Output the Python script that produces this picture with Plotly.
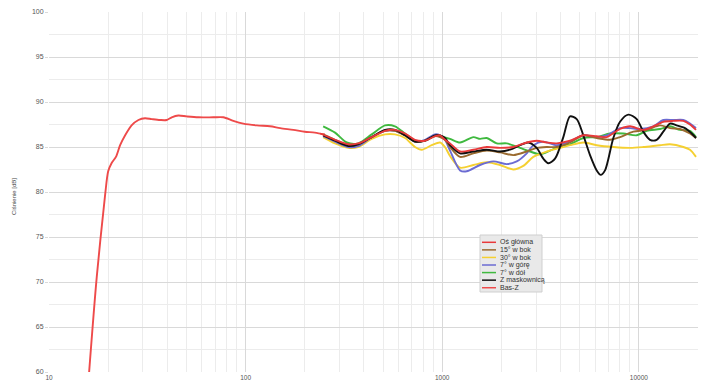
import plotly.graph_objects as go

# ---------------- data ----------------
series_names = ["Oś główna", "15° w bok", "30° w bok", "7° w górę", "7° w dół", "Z maskownicą", "Bas-Z"]
series_colors = ["#e8393a", "#9a6a2f", "#f5d031", "#6b6bd2", "#3fb93f", "#111111", "#ee4a4a"]

basz_f = [16.0, 17.5, 19.3, 20.0, 20.8, 21.9, 23.0, 24.4, 26.3, 28.5, 30.8, 33.3, 36.7, 39.7, 42.1,
          45.5, 50.2, 57.5, 68.5, 77.0, 86.6, 97.3, 114, 133, 150, 175, 200, 225, 253]
basz_db = [60.0, 70.6, 79.7, 82.3, 83.2, 83.9, 85.2, 86.3, 87.4, 88.0, 88.2, 88.1, 88.0, 88.0, 88.3,
           88.5, 88.4, 88.3, 88.3, 88.3, 87.9, 87.6, 87.4, 87.3, 87.1, 86.9, 86.7, 86.6, 86.4]

os_f = [240, 285, 333, 374, 438, 512, 575, 647, 727, 818, 919, 975, 1033, 1096, 1232, 1440, 1684, 1968,
        2300, 2691, 3024, 3401, 3823, 4467, 5220, 6107, 6865, 8024, 9020, 10540, 11850, 13320, 14980,
        16840, 18210, 19540]
os_db = [86.5, 85.8, 85.3, 85.4, 86.1, 86.8, 86.9, 86.5, 85.8, 85.7, 86.2, 86.3, 85.8, 85.4, 84.5, 84.7,
         85.0, 84.9, 85.0, 85.5, 85.7, 85.5, 85.4, 85.7, 86.3, 86.2, 86.1, 87.0, 87.3, 86.9, 87.3, 87.8,
         87.9, 87.9, 87.5, 86.9]

b15_f = [248, 285, 333, 374, 438, 512, 575, 647, 727, 818, 919, 975, 1033, 1096, 1232, 1440, 1684, 1968,
         2300, 2691, 3024, 3401, 3823, 4467, 5220, 6107, 7137, 8024, 9376, 10970, 12820, 14410, 16200,
         18210, 19540]
b15_db = [86.4, 85.8, 85.2, 85.3, 86.1, 86.8, 86.8, 86.3, 85.6, 85.7, 86.2, 86.1, 85.8, 85.0, 83.9, 84.3,
          84.6, 84.4, 84.1, 84.5, 84.9, 85.0, 85.0, 85.5, 86.3, 86.0, 85.8, 86.1, 86.7, 86.9, 87.4, 87.1,
          87.0, 86.5, 86.0]

b30_f = [248, 285, 333, 374, 438, 512, 575, 647, 727, 787, 884, 975, 1033, 1096, 1232, 1440, 1684, 1968,
         2300, 2585, 2906, 3401, 3973, 4467, 5220, 6107, 7420, 9020, 10540, 12820, 14410, 16840, 18210,
         19540]
b30_db = [86.1, 85.4, 84.9, 85.0, 85.9, 86.4, 86.4, 86.0, 85.0, 84.7, 85.2, 85.5, 85.0, 84.0, 82.7, 83.0,
          83.3, 83.0, 82.5, 82.9, 83.9, 84.5, 84.9, 85.2, 85.5, 85.2, 85.0, 84.9, 85.0, 85.2, 85.3, 85.0,
          84.7, 83.9]

up7_f = [248, 285, 333, 374, 438, 512, 575, 647, 727, 818, 919, 975, 1033, 1096, 1232, 1332, 1557, 1820,
         2128, 2393, 2691, 2906, 3268, 3823, 4467, 5220, 6107, 6865, 8024, 9020, 10140, 11850, 13320,
         14980, 16840, 18210, 19540]
up7_db = [86.2, 85.6, 85.0, 85.1, 86.1, 86.8, 86.8, 86.3, 85.6, 85.8, 86.4, 86.3, 85.8, 84.6, 82.4, 82.3,
          83.0, 83.4, 83.1, 83.4, 84.3, 85.2, 85.6, 85.2, 85.6, 86.3, 86.1, 86.3, 87.1, 87.1, 87.0, 87.3,
          88.0, 88.0, 88.0, 87.6, 87.1]

dn7_f = [248, 285, 327, 374, 438, 512, 575, 647, 727, 818, 919, 975, 1096, 1232, 1440, 1557, 1684, 1894,
         2128, 2488, 2797, 3145, 3536, 3973, 4467, 5220, 6107, 7137, 8340, 9756, 10970, 12820, 14410,
         16200, 18210, 19540]
dn7_db = [87.3, 86.6, 85.5, 85.4, 86.4, 87.4, 87.3, 86.5, 85.7, 85.7, 86.3, 86.2, 85.9, 85.5, 86.1, 85.9,
          86.0, 85.4, 85.4, 84.9, 84.5, 84.2, 84.6, 85.1, 85.3, 86.0, 86.1, 86.5, 86.5, 86.3, 86.8, 87.0,
          87.3, 86.9, 86.8, 86.1]

mask_f = [248, 285, 333, 374, 438, 512, 575, 647, 727, 818, 919, 975, 1033, 1096, 1232, 1440, 1684, 1968,
          2213, 2488, 2742, 3024, 3268, 3466, 3748, 4130, 4467, 4832, 5220, 5647, 6107, 6399, 6731, 7420,
          8024, 8843, 9756, 10540, 11400, 12330, 13320, 14410, 15590, 17180, 18580, 19540]
mask_db = [86.3, 85.7, 85.1, 85.3, 86.1, 86.9, 86.9, 86.3, 85.6, 85.7, 86.3, 86.3, 86.0, 85.2, 84.3, 84.5,
           84.7, 84.5, 84.7, 85.2, 85.5, 84.9, 83.7, 83.2, 83.7, 86.1, 88.4, 88.1, 86.3, 84.1, 82.4, 81.9,
           82.4, 86.0, 87.8, 88.6, 88.1, 86.7, 85.8, 85.8, 86.7, 87.6, 87.4, 87.1, 86.5, 86.0]

x_tickvals = [10, 100, 1000, 10000]
x_ticktext = ["10", "100", "1000", "10000"]
y_tickvals = [60, 65, 70, 75, 80, 85, 90, 95, 100]
y_title = "Ciśnienie [dB]"

# draw order: later traces on top
traces = [
    (series_names[6], series_colors[6], basz_f, basz_db),
    (series_names[4], series_colors[4], dn7_f, dn7_db),
    (series_names[2], series_colors[2], b30_f, b30_db),
    (series_names[3], series_colors[3], up7_f, up7_db),
    (series_names[1], series_colors[1], b15_f, b15_db),
    (series_names[5], series_colors[5], mask_f, mask_db),
    (series_names[0], series_colors[0], os_f, os_db),
]

# ---------------- layout geometry ----------------
W, H = 705, 381
ML, MR, MT, MB = 49, 7, 12, 9
PW, PH = W - ML - MR, H - MT - MB

def px_x(px):
    return (px - ML) / PW

def px_y(py):
    return (H - MB - py) / PH

fig = go.Figure()
for name, color, fx, fy in traces:
    fig.add_trace(go.Scatter(x=fx, y=fy, mode="lines", name=name,
                             line=dict(color=color, width=1.9, shape="spline", smoothing=0.8),
                             showlegend=False, hoverinfo="skip"))

grid_major = "#d9d9d9"
grid_minor = "#ececec"
tick_font = dict(family="Liberation Sans, Arial, sans-serif", size=7, color="#555555")
xtick_font = dict(family="Liberation Sans, Arial, sans-serif", size=6.5, color="#555555")

fig.update_layout(
    width=W, height=H,
    margin=dict(l=ML, r=MR, t=MT, b=MB, pad=0, autoexpand=False),
    paper_bgcolor="white", plot_bgcolor="white",
    showlegend=False,
    xaxis=dict(type="log", range=[1, 4.30103], tickvals=x_tickvals, ticktext=x_ticktext,
               showgrid=True, gridcolor=grid_major, gridwidth=1, zeroline=False,
               ticks="", ticklen=0, tickfont=xtick_font, ticklabelstandoff=0,
               minor=dict(dtick="D1", showgrid=True, gridcolor=grid_minor, ticks=""),
               showline=False, fixedrange=True, automargin=False),
    yaxis=dict(range=[60, 100], tickvals=y_tickvals, showgrid=True, gridcolor=grid_major,
               zeroline=False, ticks="outside", ticklen=3, tickcolor=grid_major,
               tickfont=tick_font,
               minor=dict(dtick=2.5, showgrid=True, gridcolor=grid_minor, ticks=""),
               showline=False, fixedrange=True, automargin=False),
)

annotations = [dict(text=y_title, x=px_x(14), y=px_y(197), xref="paper", yref="paper",
                    textangle=-90, showarrow=False,
                    font=dict(family="Liberation Sans, Arial, sans-serif", size=6, color="#444444"),
                    xanchor="center", yanchor="middle")]
shapes = []

# legend box (custom, compact)
lx0, lx1, ly0, ly1 = 480, 542, 235, 292
shapes.append(dict(type="rect", xref="paper", yref="paper",
                   x0=px_x(lx0), x1=px_x(lx1), y0=px_y(ly1), y1=px_y(ly0),
                   fillcolor="#e9e9e9", line=dict(color="#cfcfcf", width=1), layer="above"))
step = 7.57
for i, (name, color) in enumerate(zip(series_names, series_colors)):
    cy = 242.3 + i * step
    shapes.append(dict(type="line", xref="paper", yref="paper",
                       x0=px_x(482), x1=px_x(496), y0=px_y(cy), y1=px_y(cy),
                       line=dict(color=color, width=1.5), layer="above"))
    annotations.append(dict(text=name, x=px_x(498), y=px_y(cy), xref="paper", yref="paper",
                            showarrow=False, xanchor="left", yanchor="middle",
                            font=dict(family="Liberation Sans, Arial, sans-serif", size=7,
                                      color="#333333")))

fig.update_layout(annotations=annotations, shapes=shapes)
fig.write_html("out.html")
